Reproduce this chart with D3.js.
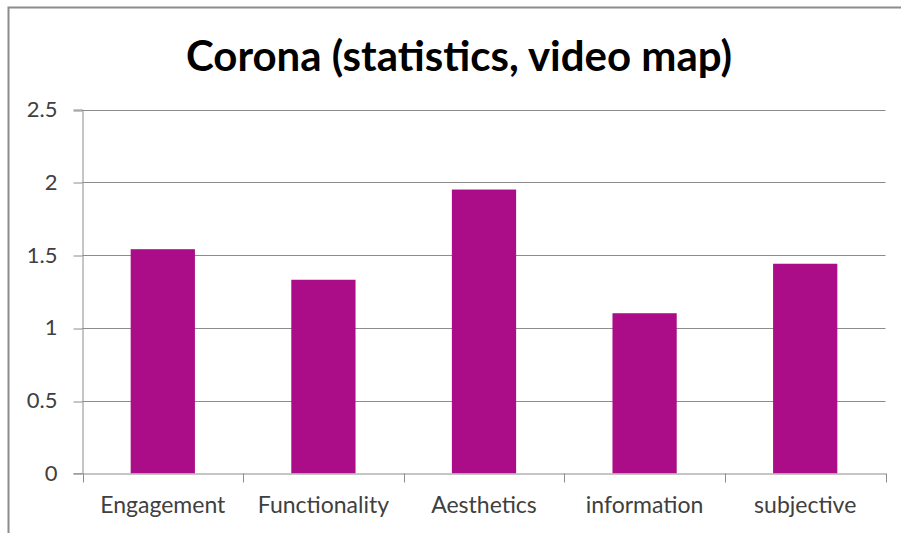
<!DOCTYPE html>
<html>
<head>
<meta charset="utf-8">
<script src="https://cdn.jsdelivr.net/npm/d3@7"></script>
<style>
  html, body { margin: 0; padding: 0; background: #fff; }
  svg { display: block; }
  text { font-family: Lato, "Open Sans", "DejaVu Sans", sans-serif; }
</style>
</head>
<body>
<svg id="chart" width="901" height="533"></svg>
<script>
// Scores per evaluation dimension
const categories = ["Engagement", "Functionality", "Aesthetics", "information", "subjective"];
const values = [1.54, 1.33, 1.95, 1.10, 1.44];
const yTicks = [0, 0.5, 1, 1.5, 2, 2.5];
const title = "Corona (statistics, video map)";

const W = 901, H = 533;
const margin = { left: 82.5, right: 15.5, top: 109.5, bottom: 59.5 };

const svg = d3.select("#chart");

// chart frame (top and left edges visible)
svg.append("path")
  .attr("d", `M8.5,${H} L8.5,7.5 L${W},7.5`)
  .attr("fill", "none")
  .attr("stroke", "#8c8c8c")
  .attr("stroke-width", 2);

const x = d3.scaleBand()
  .domain(categories)
  .range([margin.left, W - margin.right])
  .paddingInner(0.6)
  .paddingOuter(0.3);

const xAxisBand = d3.scaleBand()
  .domain(categories)
  .range([margin.left, W - margin.right]);

const y = d3.scaleLinear()
  .domain([0, 2.5])
  .range([H - margin.bottom - 0.2, margin.top]);

// horizontal gridlines
svg.append("g")
  .selectAll("line")
  .data(yTicks.filter(d => d > 0))
  .join("line")
  .attr("x1", margin.left)
  .attr("x2", W - margin.right)
  .attr("y1", d => Math.round(y(d)) + 0.5)
  .attr("y2", d => Math.round(y(d)) + 0.5)
  .attr("stroke", "#8c8c8c")
  .attr("stroke-width", 1);

// bars
svg.append("g")
  .selectAll("rect")
  .data(values)
  .join("rect")
  .attr("x", (d, i) => x(categories[i]))
  .attr("width", x.bandwidth())
  .attr("y", d => y(d))
  .attr("height", d => y(0) - y(d))
  .attr("fill", "#aa0d87");

// y axis
const yAxis = d3.axisLeft(y)
  .tickValues(yTicks)
  .tickSize(9)
  .tickPadding(16)
  .tickFormat(d3.format("~g"));

const yg = svg.append("g")
  .attr("transform", `translate(${margin.left},0)`)
  .call(yAxis);
yg.selectAll("path.domain").attr("stroke", "#8c8c8c");
yg.selectAll(".tick line").attr("stroke", "#8c8c8c")
  .attr("transform", d => `translate(0,${Math.round(y(d)) + 0.5 - y(d)})`);
yg.selectAll(".tick text")
  .attr("fill", "#404040")
  .style("font-size", "22px")
  .style("font-family", "Lato, 'Open Sans', sans-serif");

// x axis
const xAxis = d3.axisBottom(xAxisBand)
  .tickSize(0)
  .tickPadding(23);

const xg = svg.append("g")
  .attr("transform", `translate(0,${Math.round(y(0)) + 0.5})`)
  .call(xAxis);
xg.selectAll("path.domain").attr("stroke", "#8c8c8c");
xg.selectAll(".tick text")
  .attr("fill", "#404040")
  .style("font-size", "23px")
  .style("font-family", "Lato, 'Open Sans', sans-serif");

// category separator ticks
xg.append("g")
  .selectAll("line")
  .data(categories.map(c => xAxisBand(c) + xAxisBand.bandwidth()).concat([xAxisBand(categories[0])]))
  .join("line")
  .attr("x1", d => Math.round(d) + 0.5)
  .attr("x2", d => Math.round(d) + 0.5)
  .attr("y1", 0)
  .attr("y2", 9)
  .attr("stroke", "#8c8c8c");

// title
svg.append("text")
  .attr("x", 459)
  .attr("y", 71)
  .attr("text-anchor", "middle")
  .attr("fill", "#000")
  .style("font-size", "42px")
  .style("font-weight", "bold")
  .style("font-family", "Lato, 'Open Sans', sans-serif")
  .text(title);
</script>
</body>
</html>
